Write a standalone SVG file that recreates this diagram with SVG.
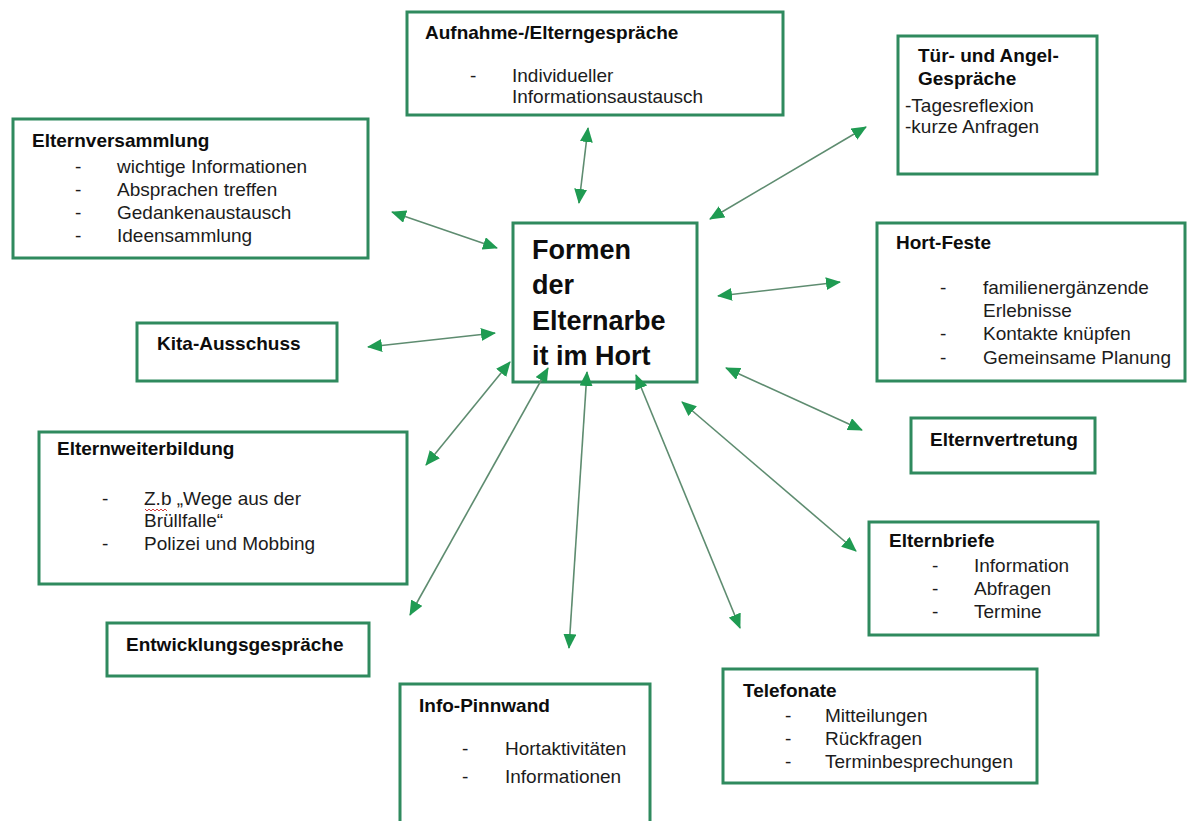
<svg xmlns="http://www.w3.org/2000/svg" width="1187" height="821" viewBox="0 0 1187 821">
<style>
.box{fill:#fff;stroke:#2f8a5e;stroke-width:3}
text{font-family:"Liberation Sans",Arial,sans-serif;font-size:19px;fill:#1c1c1c}
.t{font-weight:bold;fill:#0d0d0d}
.c{font-weight:bold;font-size:27px;fill:#0d0d0d}
.con line{stroke:#5e8c70;stroke-width:1.6;marker-start:url(#ah);marker-end:url(#ah)}
</style>
<defs>
<marker id="ah" markerUnits="userSpaceOnUse" viewBox="0 0 15 13" refX="14" refY="6.5" markerWidth="15" markerHeight="13" orient="auto-start-reverse">
<path d="M0,0 L15,6.5 L0,13 Z" fill="#1f9b52"/>
</marker>
</defs>
<rect width="1187" height="821" fill="#fff"/>

<g id="aufnahme">
<rect class="box" x="407" y="12" width="376" height="103"/>
<text class="t" x="425" y="39">Aufnahme-/Elterngespräche</text>
<text x="470" y="82">-</text>
<text x="512" y="82">Individueller</text>
<text x="512" y="103">Informationsaustausch</text>
</g>

<g id="tuer">
<rect class="box" x="898" y="36" width="199" height="138"/>
<text class="t" x="918" y="62">Tür- und Angel-</text>
<text class="t" x="918" y="85">Gespräche</text>
<text x="905" y="112">-Tagesreflexion</text>
<text x="905" y="133">-kurze Anfragen</text>
</g>

<g id="elternversammlung">
<rect class="box" x="13" y="119" width="355" height="139"/>
<text class="t" x="32" y="147">Elternversammlung</text>
<text x="75" y="173">-</text><text x="117" y="173">wichtige Informationen</text>
<text x="75" y="196">-</text><text x="117" y="196">Absprachen treffen</text>
<text x="75" y="219">-</text><text x="117" y="219">Gedankenaustausch</text>
<text x="75" y="242">-</text><text x="117" y="242">Ideensammlung</text>
</g>

<g id="zentrum">
<rect class="box" x="513" y="223" width="184" height="159"/>
<text class="c" x="532" y="259">Formen</text>
<text class="c" x="532" y="294">der</text>
<text class="c" x="532" y="330">Elternarbe</text>
<text class="c" x="532" y="365">it im Hort</text>
</g>

<g id="hortfeste">
<rect class="box" x="877" y="223" width="308" height="158"/>
<text class="t" x="896" y="249">Hort-Feste</text>
<text x="940" y="294">-</text><text x="983" y="294">familienergänzende</text>
<text x="983" y="317">Erlebnisse</text>
<text x="940" y="340">-</text><text x="983" y="340">Kontakte knüpfen</text>
<text x="940" y="364">-</text><text x="983" y="364">Gemeinsame Planung</text>
</g>

<g id="kita">
<rect class="box" x="137" y="323" width="200" height="58"/>
<text class="t" x="157" y="350">Kita-Ausschuss</text>
</g>

<g id="elternvertretung">
<rect class="box" x="911" y="418" width="184" height="55"/>
<text class="t" x="930" y="446">Elternvertretung</text>
</g>

<g id="elternweiterbildung">
<rect class="box" x="39" y="432" width="368" height="152"/>
<text class="t" x="57" y="455">Elternweiterbildung</text>
<text x="102" y="505">-</text><text x="144" y="505">Z.b „Wege aus der</text>
<path d="M145,509 l2,2 l2,-2 l2,2 l2,-2 l2,2 l2,-2 l2,2 l2,-2 l2,2 l2,-2 l2,2" fill="none" stroke="#d04040" stroke-width="1"/>
<text x="144" y="527">Brüllfalle“</text>
<text x="102" y="550">-</text><text x="144" y="550">Polizei und Mobbing</text>
</g>

<g id="elternbriefe">
<rect class="box" x="869" y="522" width="229" height="113"/>
<text class="t" x="889" y="547">Elternbriefe</text>
<text x="932" y="572">-</text><text x="974" y="572">Information</text>
<text x="932" y="595">-</text><text x="974" y="595">Abfragen</text>
<text x="932" y="618">-</text><text x="974" y="618">Termine</text>
</g>

<g id="entwicklung">
<rect class="box" x="107" y="623" width="262" height="53"/>
<text class="t" x="126" y="651">Entwicklungsgespräche</text>
</g>

<g id="pinnwand">
<rect class="box" x="400" y="684" width="250" height="145"/>
<text class="t" x="419" y="712">Info-Pinnwand</text>
<text x="462" y="755">-</text><text x="505" y="755">Hortaktivitäten</text>
<text x="462" y="783">-</text><text x="505" y="783">Informationen</text>
</g>

<g id="telefonate">
<rect class="box" x="723" y="669" width="314" height="114"/>
<text class="t" x="743" y="697">Telefonate</text>
<text x="785" y="722">-</text><text x="825" y="722">Mitteilungen</text>
<text x="785" y="745">-</text><text x="825" y="745">Rückfragen</text>
<text x="785" y="768">-</text><text x="825" y="768">Terminbesprechungen</text>
</g>

<g id="connectors" class="con">
<line x1="588" y1="128" x2="579" y2="203"/>
<line x1="866" y1="127" x2="710" y2="219"/>
<line x1="392" y1="212" x2="497" y2="248"/>
<line x1="718" y1="296" x2="840" y2="282"/>
<line x1="368" y1="347" x2="495" y2="333"/>
<line x1="726" y1="368" x2="862" y2="430"/>
<line x1="426" y1="465" x2="510" y2="362"/>
<line x1="410" y1="615" x2="548" y2="368"/>
<line x1="569" y1="648" x2="587" y2="372"/>
<line x1="740" y1="628" x2="636" y2="375"/>
<line x1="856" y1="551" x2="682" y2="402"/>
</g>
</svg>
